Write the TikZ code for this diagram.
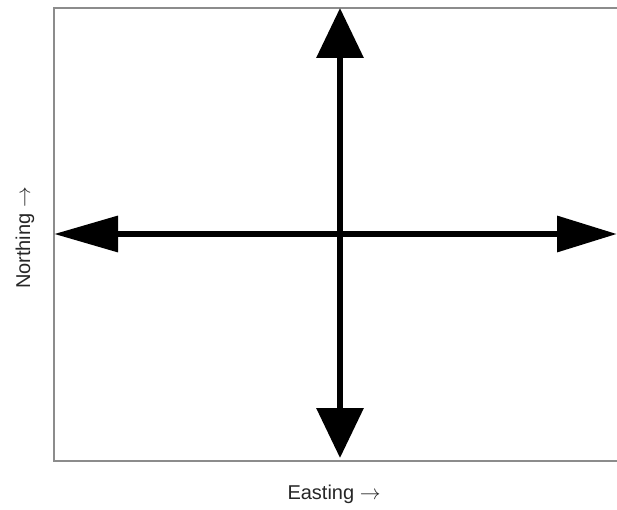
\documentclass[tikz,border=0pt]{standalone}
\usepackage{fontspec}
\setmainfont{Liberation Sans}
\usetikzlibrary{arrows.meta}
\begin{document}
\begin{tikzpicture}[x=1pt,y=-1pt,
  frame/.style={draw=black!45,line width=1.1pt},
  hline/.style={line width=6.5pt,{Triangle[length=64pt,width=35pt]}-{Triangle[length=60pt,width=35pt]}},
  vline/.style={line width=6.5pt,{Triangle[length=50pt,width=46pt]}-{Triangle[length=50pt,width=46pt]}},
  lab/.style={font=\fontsize{20}{22}\selectfont,text=black!85}]
\useasboundingbox (0,0) rectangle (617,510);
\coordinate (TR) at (618,8);
\coordinate (TL) at (54,8);
\coordinate (BL) at (54,461);
\coordinate (BR) at (618,461);
\draw[frame] (TR) -- (TL) -- (BL) -- (BR);
\coordinate (W) at (54,234);
\coordinate (E) at (617,234);
\coordinate (N) at (340,8);
\coordinate (S) at (340,458);
\draw[hline] (W) -- (E);
\draw[vline] (S) -- (N);
\node[lab] (xlab) at (334,494) {Easting $\rightarrow$};
\node[lab,rotate=90] (ylab) at (25,238) {Northing $\rightarrow$};
\end{tikzpicture}
\end{document}
